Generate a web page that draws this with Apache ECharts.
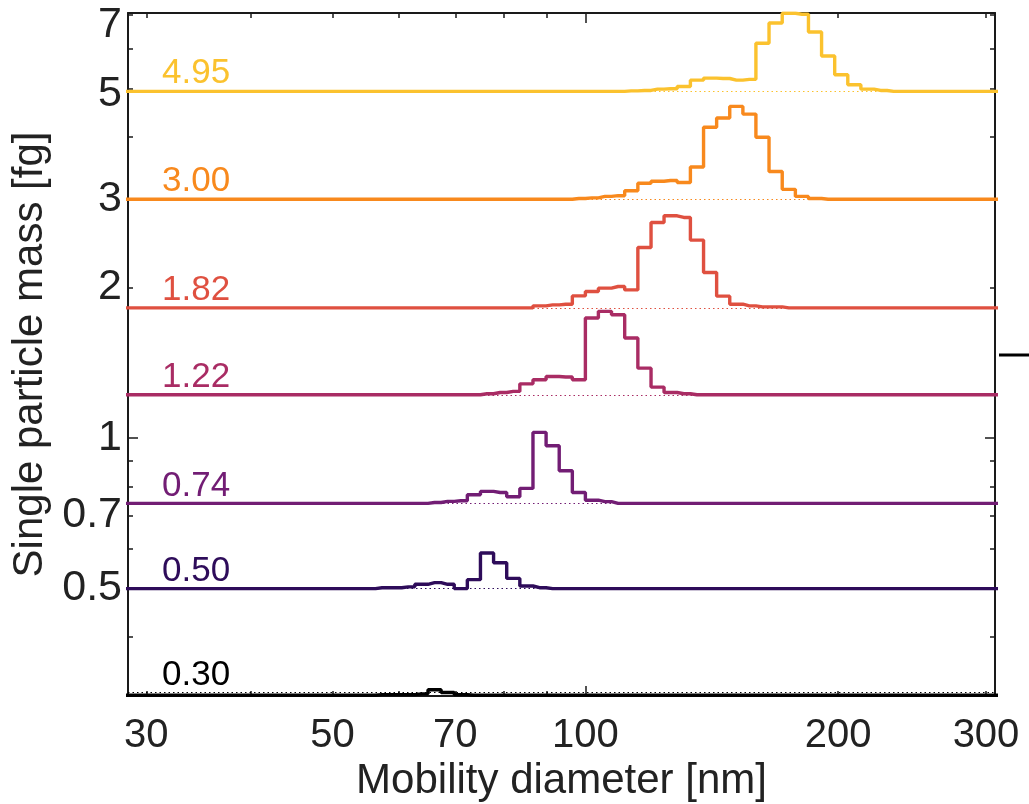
<!DOCTYPE html>
<html><head><meta charset="utf-8">
<script src="https://cdn.jsdelivr.net/npm/echarts@6/dist/echarts.min.js"></script>
<style>html,body{margin:0;padding:0;background:#fff}#c{width:1029px;height:804px}</style>
</head><body><div id="c"></div>
<script>
// Bin centre mobility diameters [nm] (64 channels per decade)
const diameters = [27.88, 28.90, 29.96, 31.06, 32.20, 33.38, 34.60, 35.87, 37.18, 38.54,
  39.95, 41.42, 42.94, 44.51, 46.14, 47.83, 49.58, 51.40, 53.28, 55.24,
  57.26, 59.36, 61.53, 63.79, 66.13, 68.55, 71.06, 73.66, 76.36, 79.16,
  82.06, 85.07, 88.19, 91.42, 94.77, 98.24, 101.8, 105.5, 109.4, 113.4,
  117.6, 121.9, 126.3, 131.0, 135.8, 140.8, 145.9, 151.3, 156.8, 162.5,
  168.5, 174.7, 181.1, 187.7, 194.6, 201.7, 209.1, 216.7, 224.7, 232.9,
  241.5, 250.3, 259.5, 269.0, 278.8, 289.1, 299.6, 310.6];

// Single particle mass levels labelled on the left
const baselines = [4.95, 3.00, 1.82, 1.22, 0.74, 0.50, 0.30];

const mass495 = [
  4.93,4.93,4.93,4.93,4.93,4.93,4.93,4.93,4.93,4.93,
  4.93,4.93,4.93,4.93,4.93,4.93,4.93,4.93,4.93,4.93,
  4.93,4.93,4.93,4.93,4.93,4.93,4.93,4.93,4.93,4.93,
  4.93,4.93,4.93,4.93,4.93,4.93,4.93,4.93,4.93,4.94,
  4.95,4.98,4.99,5.04,5.19,5.24,5.23,5.19,5.21,6.15,
  6.75,7.06,7.03,6.48,5.80,5.32,5.08,4.98,4.95,4.93,
  4.93,4.93,4.93,4.93,4.93,4.93,4.93,4.93];
const mass300 = [
  3.00,3.00,3.00,3.00,3.00,3.00,3.00,3.00,3.00,3.00,
  3.00,3.00,3.00,3.00,3.00,3.00,3.00,3.00,3.00,3.00,
  3.00,3.00,3.00,3.00,3.00,3.00,3.00,3.00,3.00,3.00,
  3.00,3.00,3.00,3.00,3.00,3.01,3.02,3.04,3.05,3.12,
  3.23,3.26,3.27,3.24,3.48,4.18,4.36,4.60,4.44,3.99,
  3.41,3.14,3.04,3.01,3.00,3.00,3.00,3.00,3.00,3.00,
  3.00,3.00,3.00,3.00,3.00,3.00,3.00,3.00];
const mass182 = [
  1.82,1.82,1.82,1.82,1.82,1.82,1.82,1.82,1.82,1.82,
  1.82,1.82,1.82,1.82,1.82,1.82,1.82,1.82,1.82,1.82,
  1.82,1.82,1.82,1.82,1.82,1.82,1.82,1.82,1.82,1.82,
  1.82,1.82,1.837,1.845,1.851,1.923,1.962,1.993,2.008,1.977,
  2.402,2.696,2.780,2.759,2.486,2.141,1.921,1.851,1.837,1.828,
  1.828,1.82,1.82,1.82,1.82,1.82,1.82,1.82,1.82,1.82,
  1.82,1.82,1.82,1.82,1.82,1.82,1.82,1.82];
const mass122 = [
  1.22,1.22,1.22,1.22,1.22,1.22,1.22,1.22,1.22,1.22,
  1.22,1.22,1.22,1.22,1.22,1.22,1.22,1.22,1.22,1.22,
  1.22,1.22,1.22,1.22,1.22,1.22,1.22,1.22,1.226,1.233,
  1.239,1.283,1.307,1.327,1.324,1.307,1.737,1.791,1.763,1.584,
  1.379,1.264,1.233,1.226,1.22,1.22,1.22,1.22,1.22,1.22,
  1.22,1.22,1.22,1.22,1.22,1.22,1.22,1.22,1.22,1.22,
  1.22,1.22,1.22,1.22,1.22,1.22,1.22,1.22];
const mass074 = [
  0.74,0.74,0.74,0.74,0.74,0.74,0.74,0.74,0.74,0.74,
  0.74,0.74,0.74,0.74,0.74,0.74,0.74,0.74,0.74,0.74,
  0.74,0.74,0.74,0.74,0.743,0.747,0.749,0.770,0.782,0.778,
  0.763,0.793,1.026,0.965,0.860,0.778,0.751,0.746,0.74,0.74,
  0.74,0.74,0.74,0.74,0.74,0.74,0.74,0.74,0.74,0.74,
  0.74,0.74,0.74,0.74,0.74,0.74,0.74,0.74,0.74,0.74,
  0.74,0.74,0.74,0.74,0.74,0.74,0.74,0.74];
const mass050 = [
  0.50,0.50,0.50,0.50,0.50,0.50,0.50,0.50,0.50,0.50,
  0.50,0.50,0.50,0.50,0.50,0.50,0.50,0.50,0.50,0.50,
  0.502,0.502,0.504,0.510,0.514,0.510,0.500,0.521,0.589,0.563,
  0.524,0.506,0.502,0.50,0.50,0.50,0.50,0.50,0.50,0.50,
  0.50,0.50,0.50,0.50,0.50,0.50,0.50,0.50,0.50,0.50,
  0.50,0.50,0.50,0.50,0.50,0.50,0.50,0.50,0.50,0.50,
  0.50,0.50,0.50,0.50,0.50,0.50,0.50,0.50];
const mass030 = [
  0.306,0.306,0.306,0.306,0.306,0.306,0.306,0.306,0.306,0.306,
  0.306,0.306,0.306,0.306,0.306,0.306,0.306,0.306,0.306,0.306,
  0.307,0.307,0.307,0.308,0.314,0.310,0.307,0.306,0.306,0.306,
  0.306,0.306,0.306,0.306,0.306,0.306,0.306,0.306,0.306,0.306,
  0.306,0.306,0.306,0.306,0.306,0.306,0.306,0.306,0.306,0.306,
  0.306,0.306,0.306,0.306,0.306,0.306,0.306,0.306,0.306,0.306,
  0.306,0.306,0.306,0.306,0.306,0.306,0.306,0.306];

const seriesValues = [mass495, mass300, mass182, mass122, mass074, mass050, mass030];
const colors = ['#fbc22e', '#f8891d', '#df5040', '#a92c64', '#721d74', '#2e0c5a', '#000000'];

const xLabelValues = [30, 50, 70, 100, 200, 300];
const xMinorTicks = [30, 40, 50, 60, 70, 80, 90, 200, 300];
const xMajorTicks = [100];
const yLabelValues = [0.5, 0.7, 1, 2, 3, 5, 7];
const yMinorTicks = [0.4, 0.5, 0.6, 0.7, 0.8, 0.9, 2, 3, 4, 5, 6, 7];
const yMajorTicks = [1];

const X_MIN = 28.53, X_MAX = 307.5, Y_MIN = 0.305, Y_MAX = 7.07;
const FONT = "'Liberation Sans', Arial, Helvetica, sans-serif";
const AX = '#1a1a1a';

function xAxisDef(pos, ticks, len, withLine, withLabels) {
  return {
    type: 'log', logBase: 10, min: X_MIN, max: X_MAX, position: pos,
    axisLine: { show: withLine, onZero: false, lineStyle: { color: AX, width: 2 } },
    axisTick: { show: true, inside: true, length: len, customValues: ticks, lineStyle: { color: AX, width: 1.5 } },
    minorTick: { show: false },
    splitLine: { show: false },
    axisLabel: withLabels ? { show: true, customValues: xLabelValues, fontSize: 40, color: '#222', fontFamily: FONT, margin: 20 } : { show: false },
    name: withLabels ? 'Mobility diameter [nm]' : '',
    nameLocation: 'middle', nameGap: 57,
    nameTextStyle: { fontSize: 42, color: '#222', fontFamily: FONT }
  };
}
function yAxisDef(pos, ticks, len, withLine, withLabels) {
  return {
    type: 'log', logBase: 10, min: Y_MIN, max: Y_MAX, position: pos,
    axisLine: { show: withLine, onZero: false, lineStyle: { color: AX, width: 2 } },
    axisTick: { show: true, inside: true, length: len, customValues: ticks, lineStyle: { color: AX, width: 1.5 } },
    minorTick: { show: false },
    splitLine: { show: false },
    axisLabel: withLabels ? {
      show: true, customValues: yLabelValues, fontSize: 43, color: '#222', fontFamily: FONT, margin: 6,
      formatter: function (v) {
        const n = Math.round(v * 10) / 10;
        if (n === 7) return '{top|7}';
        if (n === 5) return '{mid|5}';
        return String(n);
      },
      rich: {
        top: { fontSize: 43, color: '#222', fontFamily: FONT, padding: [20, 0, 0, 0] },
        mid: { fontSize: 43, color: '#222', fontFamily: FONT, padding: [12, 0, 0, 0] }
      }
    } : { show: false },
    name: withLabels ? 'Single particle mass [fg]' : '',
    nameLocation: 'middle', nameGap: 68, nameRotate: 90,
    nameTextStyle: { fontSize: 42, color: '#222', fontFamily: FONT }
  };
}

const chart = echarts.init(document.getElementById('c'), null, { renderer: 'canvas' });
const series = seriesValues.map((vals, i) => ({
  type: 'line', step: 'middle', xAxisIndex: 0, yAxisIndex: 0,
  data: diameters.map((d, j) => [d, vals[j]]),
  showSymbol: false, symbol: 'none', clip: true, silent: true,
  lineStyle: { color: colors[i], width: 3.4 },
  itemStyle: { color: colors[i] },
  z: 3 + i,
  markLine: {
    silent: true, animation: false, symbol: ['none', 'none'],
    lineStyle: { color: colors[i], width: 1, type: [1.5, 3] },
    emphasis: { disabled: true },
    label: {
      show: true, position: 'insideStartTop', distance: [34, 0],
      formatter: baselines[i].toFixed(2), color: colors[i],
      fontSize: 35, fontFamily: FONT
    },
    data: [{ yAxis: vals[0] }]
  }
}));

chart.setOption({
  backgroundColor: '#ffffff',
  animation: false,
  grid: { left: 128, right: 34, top: 13, bottom: 108, containLabel: false, outerBoundsMode: 'none' },
  xAxis: [
    xAxisDef('bottom', xMinorTicks, 5, true, true),
    xAxisDef('bottom', xMajorTicks, 10, false, false),
    xAxisDef('top', xMinorTicks, 5, true, false),
    xAxisDef('top', xMajorTicks, 10, false, false)
  ],
  yAxis: [
    yAxisDef('left', yMinorTicks, 5, true, true),
    yAxisDef('left', yMajorTicks, 10, false, false),
    yAxisDef('right', yMinorTicks, 5, true, false),
    yAxisDef('right', yMajorTicks, 10, false, false)
  ],
  series: series,
  graphic: [{
    type: 'line', silent: true,
    shape: { x1: 999, y1: 355, x2: 1029, y2: 355 },
    style: { stroke: '#000', lineWidth: 3 }
  }]
});
</script>
</body></html>
